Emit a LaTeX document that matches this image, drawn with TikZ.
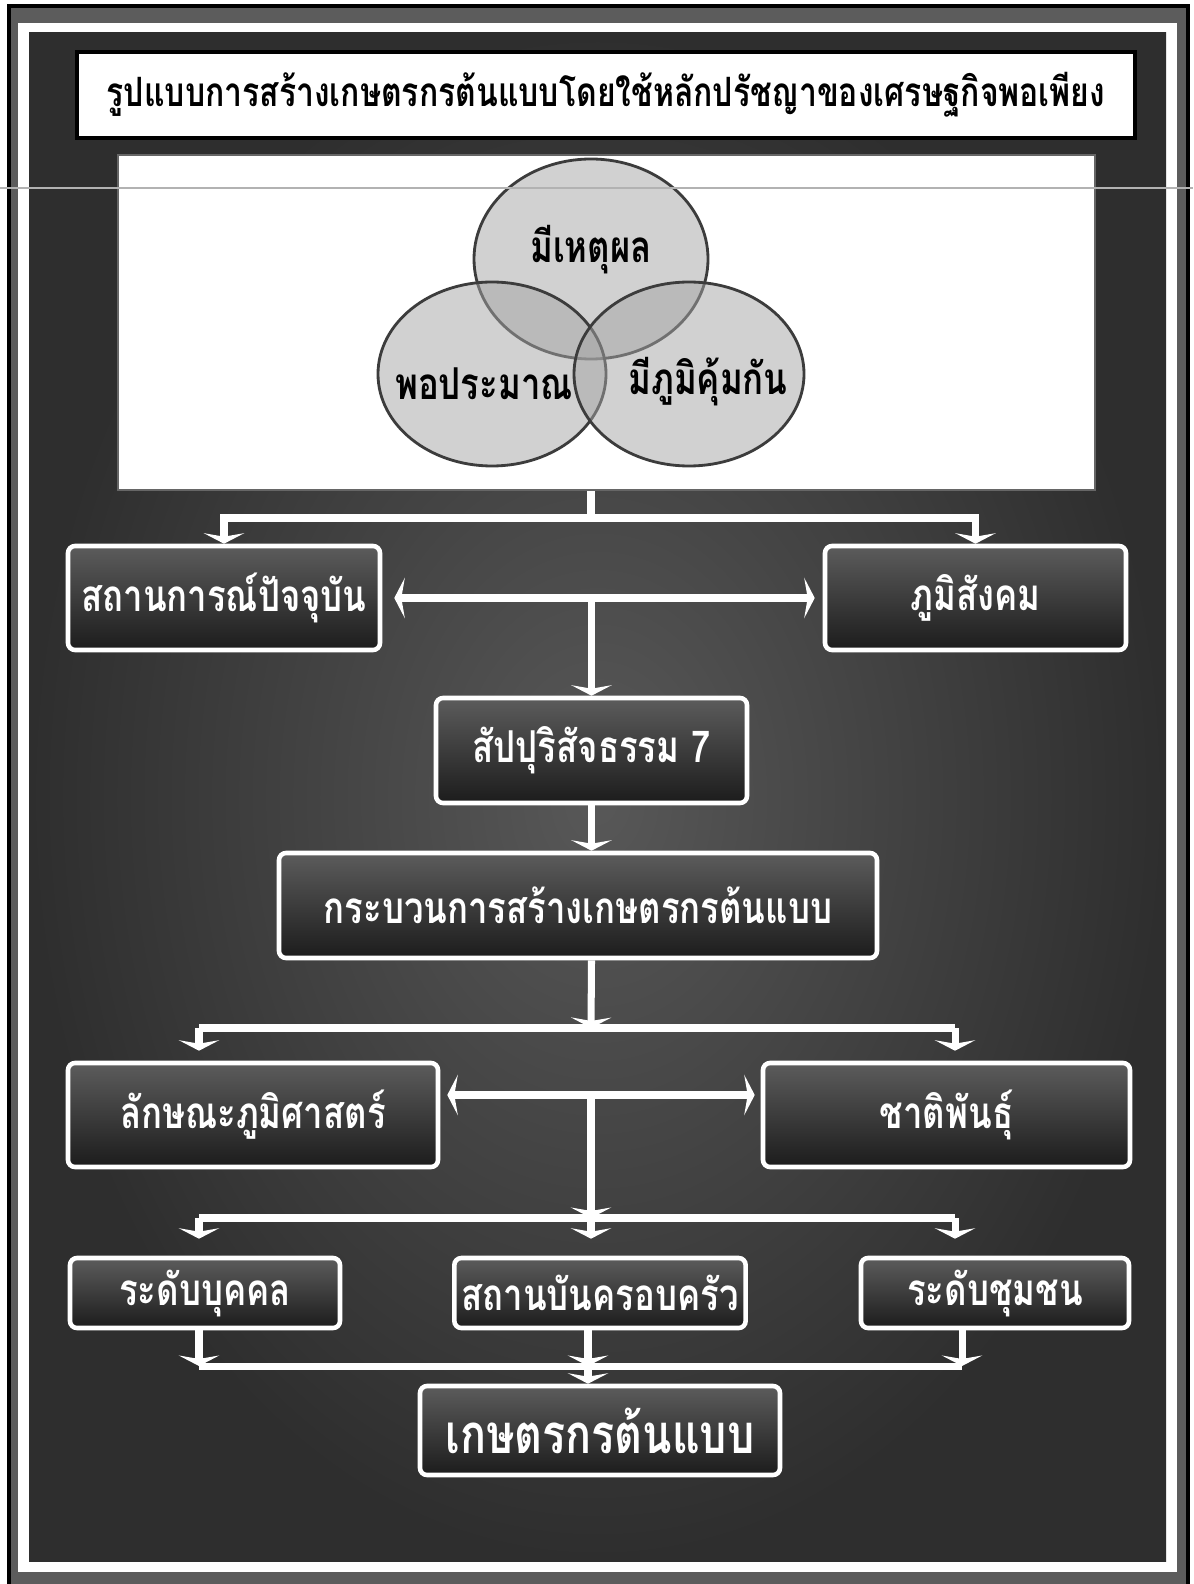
\documentclass[tikz,border=0pt]{standalone}
\usepackage{fontspec}
\usepackage{tikz}
\usetikzlibrary{positioning,arrows.meta}
\newfontfamily\thaifont[Script=Thai,FakeStretch=0.79]{Loma}
\definecolor{FrameGray}{HTML}{5C5C5C}
\definecolor{BgDark}{HTML}{2E2E2E}
\definecolor{BgLight}{HTML}{585858}
\definecolor{BoxTop}{HTML}{5C5C5C}
\definecolor{BoxBottom}{HTML}{1C1C1C}
\definecolor{VennFill}{HTML}{A4A4A4}
\definecolor{VennLine}{HTML}{3C3C3C}
\tikzset{
  stepbox/.style={
    draw=white,line width=1.3pt,rounded corners=2pt,
    top color=BoxTop,bottom color=BoxBottom,
    font=\thaifont\bfseries\fontsize{12.5}{14}\selectfont,text=white,
    align=center,inner sep=2pt
  },
  titlebox/.style={
    draw=black,line width=1.2pt,fill=white,
    font=\thaifont\bfseries\fontsize{11.5}{14}\selectfont,text=black,
    align=center,inner sep=2pt
  },
  vennbox/.style={
    draw=black!60,line width=0.6pt,fill=white,inner sep=0pt
  },
  vennring/.style={
    draw=VennLine,line width=0.8pt,fill=VennFill,fill opacity=0.5
  },
  vennlabel/.style={
    font=\thaifont\bfseries\fontsize{12.5}{14}\selectfont,text=black,inner sep=1pt
  },
  wline/.style={draw=white,line width=2pt},
  warrow/.style={wline,-{Stealth[length=3pt,width=11.5pt,inset=1pt]}},
  wboth/.style={wline,{Stealth[length=3pt,width=11.5pt,inset=1pt]}-{Stealth[length=3pt,width=11.5pt,inset=1pt]}},
}
\begin{document}
\begin{tikzpicture}[x=0.1mm,y=-0.1mm]
  \useasboundingbox (0,0) rectangle (1193,1584);
  \fill[white] (0,0) rectangle (1193,1584);
  \draw[black,line width=1pt,fill=FrameGray] (9,6) rectangle (1188,1590);
  \fill[white] (18,23) rectangle (1177,1572);
  \shade[inner color=BgLight,outer color=BgDark] (29,33) rectangle (1166,1561);
  \node[titlebox,minimum width=10.58cm,minimum height=0.86cm] (title) at (606,95) {รูปแบบการสร้างเกษตรกรต้นแบบโดยใช้หลักปรัชญาของเศรษฐกิจพอเพียง};
  \node[vennbox,minimum width=9.77cm,minimum height=3.35cm] (venn) at (606.5,322.5) {};
  \draw[vennring] (591,259) ellipse [x radius=117,y radius=100];
  \draw[vennring] (492,374) ellipse [x radius=114,y radius=92];
  \draw[vennring] (689,374) ellipse [x radius=115,y radius=92];
  \node[vennlabel] (reason) at (591,250) {มีเหตุผล};
  \node[vennlabel] (moderate) at (484,384) {พอประมาณ};
  \node[vennlabel] (immune) at (708,382) {มีภูมิคุ้มกัน};
  \node[stepbox,minimum width=3.12cm,minimum height=1.04cm] (sit) at (224,598) {สถานการณ์ปัจจุบัน};
  \node[stepbox,minimum width=3.01cm,minimum height=1.04cm] (geo) at (975.5,598) {ภูมิสังคม};
  \node[stepbox,minimum width=3.11cm,minimum height=1.05cm] (sap) at (591.5,750.5) {สัปปุริสัจธรรม 7};
  \node[stepbox,minimum width=5.98cm,minimum height=1.05cm] (proc) at (578,905.5) {กระบวนการสร้างเกษตรกรต้นแบบ};
  \node[stepbox,minimum width=3.70cm,minimum height=1.04cm] (land) at (253,1115) {ลักษณะภูมิศาสตร์};
  \node[stepbox,minimum width=3.67cm,minimum height=1.04cm] (eth) at (946.5,1115) {ชาติพันธุ์};
  \node[stepbox,minimum width=2.70cm,minimum height=0.70cm] (ind) at (205,1293) {ระดับบุคคล};
  \node[stepbox,minimum width=2.76cm,minimum height=0.70cm] (fam) at (600,1293) {สถานบันครอบครัว};
  \node[stepbox,minimum width=2.68cm,minimum height=0.70cm] (com) at (995,1293) {ระดับชุมชน};
  \node[stepbox,minimum width=3.60cm,minimum height=0.89cm,font=\thaifont\bfseries\fontsize{15.5}{18}\selectfont] (model) at (600,1430.5) {เกษตรกรต้นแบบ};
  \coordinate (j1) at (591,518);
  \draw[wline] (venn.south -| j1) -- (j1);
  \draw[warrow] (j1) -| (sit.north);
  \draw[warrow] (j1) -| (geo.north);
  \draw[wboth,shorten <=0.12cm,shorten >=0.08cm] (sit.east) -- (geo.west);
  \draw[warrow] (sit.east -| sap.north) -- (sap.north);
  \draw[warrow] (sap.south) -- (sap.south |- proc.north);
  \coordinate (j3) at (591,1028);
  \coordinate (b1l) at (199,1028);
  \coordinate (b1r) at (955,1028);
  \draw[warrow] (sap.south |- proc.south) -- (j3);
  \draw[wline] (b1l) -- (b1r);
  \draw[warrow,shorten >=0.1cm] (b1l) -- (b1l |- land.north);
  \draw[warrow,shorten >=0.1cm] (b1r) -- (b1r |- eth.north);
  \coordinate (j4) at (591,1095);
  \coordinate (j5) at (591,1218);
  \draw[wboth,shorten <=0.07cm,shorten >=0.06cm] (j4 -| land.east) -- (j4 -| eth.west);
  \draw[warrow] (j4) -- (j5);
  \coordinate (b2l) at (199,1218);
  \coordinate (b2r) at (955,1218);
  \draw[wline] (b2l) -- (b2r);
  \draw[warrow,shorten >=0.17cm] (b2l) -- (b2l |- ind.north);
  \draw[warrow,shorten >=0.17cm] (j5) -- (j5 |- fam.north);
  \draw[warrow,shorten >=0.17cm] (b2r) -- (b2r |- com.north);
  \coordinate (j6) at (588,1366);
  \coordinate (b3l) at (199,1366);
  \coordinate (b3r) at (962,1366);
  \draw[wline] (b3l) -- (b3r);
  \draw[warrow] (b3l |- ind.south) -- (b3l);
  \draw[warrow] (j6 |- fam.south) -- (j6);
  \draw[warrow] (b3r |- com.south) -- (b3r);
  \draw[warrow] (j6) -- (j6 |- model.north);
  \draw[gray!60,line width=0.6pt] (0,188) -- (1193,188);
\end{tikzpicture}
\end{document}
